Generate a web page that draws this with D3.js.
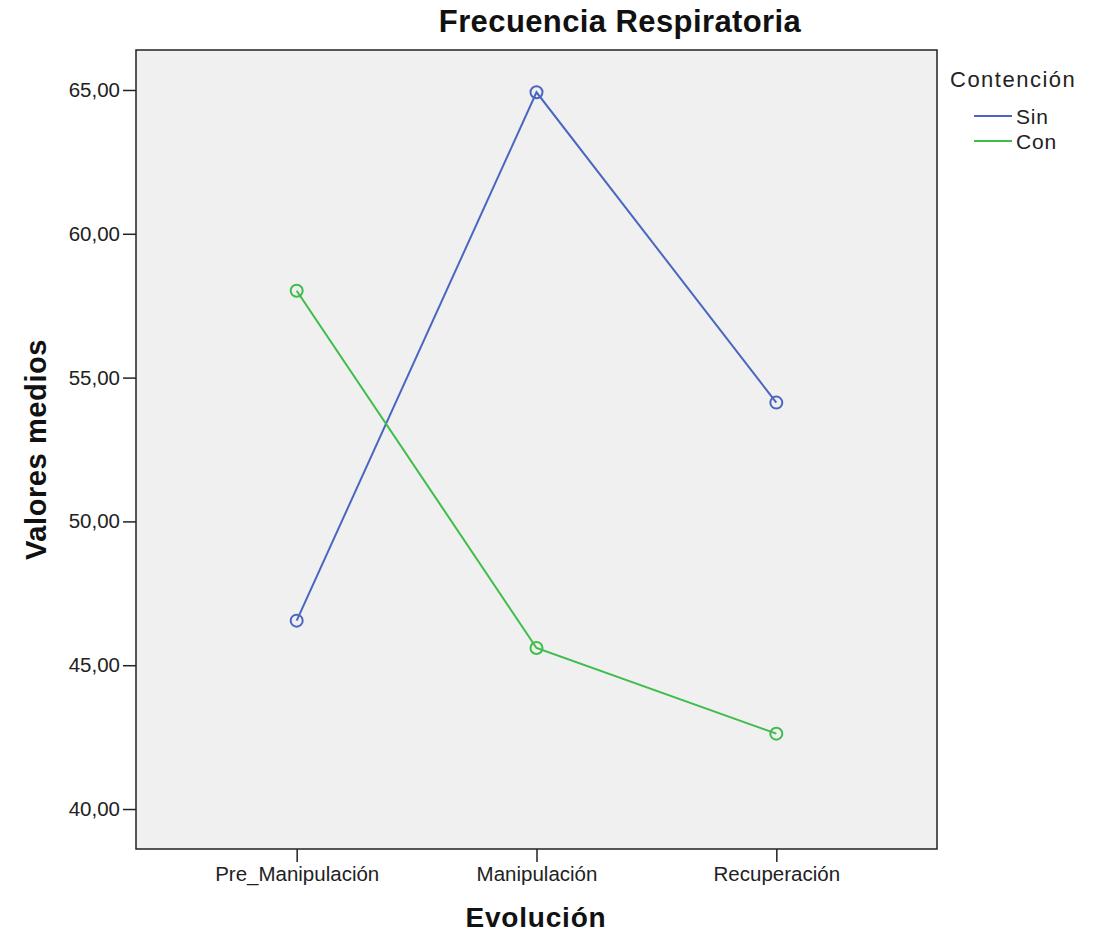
<!DOCTYPE html>
<html><head><meta charset="utf-8">
<script src="https://cdn.jsdelivr.net/npm/d3@7"></script>
<style>body{margin:0;background:#fff;} text{font-family:"Liberation Sans",Arial,sans-serif;}</style>
</head><body><svg id="c" width="1094" height="934"></svg>
<script>
const categories = ["Pre_Manipulación", "Manipulación", "Recuperación"];
const seriesNames = ["Sin", "Con"];
const sinValues = [46.55, 64.92, 54.13];
const conValues = [58.02, 45.60, 42.62];
const yTicks = [40, 45, 50, 55, 60, 65];
const colors = ["#4a66c0", "#3dbd4a"];

const svg = d3.select("#c");
const L = 136, R = 937, T = 50, B = 849;
const x = d3.scalePoint().domain(categories).range([L, R]).padding(0.67);
const y = d3.scaleLinear().domain([38.61, 66.39]).range([B, T]);

svg.append("rect").attr("x", L).attr("y", T).attr("width", R - L).attr("height", B - T)
  .attr("fill", "#f0f0f0").attr("stroke", "#222").attr("stroke-width", 1.5);

const fmt = d => d.toFixed(2).replace(".", ",");
const ya = svg.append("g").attr("transform", `translate(${L},0)`)
  .call(d3.axisLeft(y).tickValues(yTicks).tickFormat(fmt).tickSize(13).tickPadding(3));
ya.select(".domain").remove();
ya.selectAll("line").attr("stroke", "#222").attr("stroke-width", 1.5);
ya.selectAll("text").attr("font-size", 20.5).attr("fill", "#222");

const xa = svg.append("g").attr("transform", `translate(0,${B})`)
  .call(d3.axisBottom(x).tickSize(13).tickPadding(4));
xa.select(".domain").remove();
xa.selectAll("line").attr("stroke", "#222").attr("stroke-width", 1.5);
xa.selectAll("text").attr("font-size", 20.5).attr("fill", "#222");

const series = [sinValues, conValues];
const line = d3.line().x((d, i) => x(categories[i])).y(d => y(d));
series.forEach((vals, s) => {
  svg.append("path").datum(vals).attr("d", line).attr("fill", "none")
    .attr("stroke", colors[s]).attr("stroke-width", 2);
  svg.selectAll(null).data(vals).enter().append("circle")
    .attr("cx", (d, i) => x(categories[i])).attr("cy", d => y(d)).attr("r", 6)
    .attr("fill", "none").attr("stroke", colors[s]).attr("stroke-width", 2);
});

svg.append("text").attr("x", 620).attr("y", 32).attr("text-anchor", "middle")
  .attr("font-size", 31).attr("font-weight", "bold").attr("letter-spacing", 0.4).attr("fill", "#111").text("Frecuencia Respiratoria");
svg.append("text").attr("x", 536).attr("y", 927).attr("text-anchor", "middle")
  .attr("font-size", 28).attr("font-weight", "bold").attr("letter-spacing", 0.8).attr("fill", "#111").text("Evolución");
svg.append("text").attr("transform", `translate(46,${(T + B) / 2}) rotate(-90)`).attr("text-anchor", "middle")
  .attr("font-size", 29).attr("font-weight", "bold").attr("letter-spacing", 0.6).attr("fill", "#111").text("Valores medios");

svg.append("text").attr("x", 950).attr("y", 87).attr("font-size", 22).attr("letter-spacing", 1.5).attr("fill", "#222").text("Contención");
seriesNames.forEach((n, i) => {
  const ly = 116 + i * 25;
  svg.append("line").attr("x1", 974).attr("x2", 1012).attr("y1", ly).attr("y2", ly)
    .attr("stroke", colors[i]).attr("stroke-width", 2);
  svg.append("text").attr("x", 1016).attr("y", ly + 8).attr("font-size", 21).attr("letter-spacing", 0.8).attr("fill", "#222").text(n);
});
</script></body></html>
